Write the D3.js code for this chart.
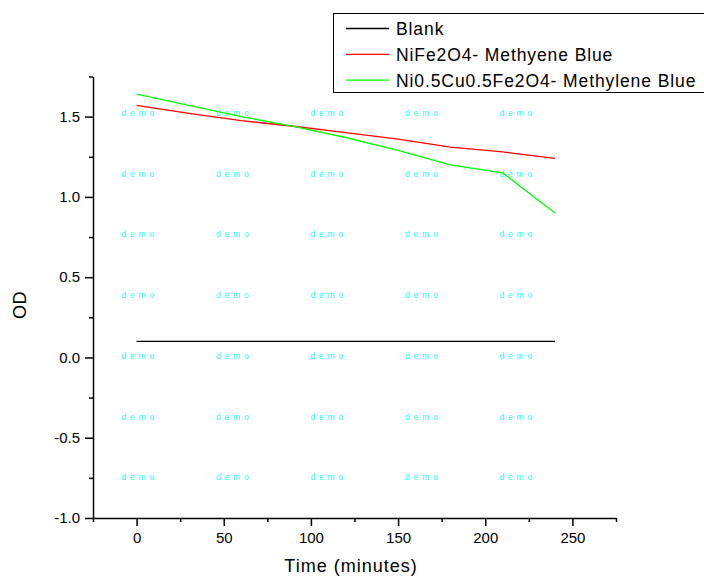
<!DOCTYPE html>
<html>
<head>
<meta charset="utf-8">
<script src="https://cdn.jsdelivr.net/npm/d3@7"></script>
<style>
  html, body { margin: 0; padding: 0; background: #fff; }
  svg { display: block; font-family: "Liberation Sans", Arial, sans-serif; }
  .tick text { font-size: 15px; fill: #000; }
  .axis path, .axis line { stroke: #000; stroke-width: 1.5px; }
</style>
</head>
<body>
<div id="chart"></div>
<script>
// data
const times = [0, 30, 60, 90, 120, 150, 180, 210, 240];
const blank = [0.1, 0.1, 0.1, 0.1, 0.1, 0.1, 0.1, 0.1, 0.1];
const niFe = [1.57, 1.52, 1.475, 1.44, 1.40, 1.36, 1.31, 1.28, 1.24];
const niCuFe = [1.64, 1.57, 1.50, 1.44, 1.37, 1.29, 1.20, 1.15, 0.90];
const seriesNames = ["Blank", "NiFe2O4- Methyene Blue", "Ni0.5Cu0.5Fe2O4- Methylene Blue"];
const seriesColors = ["#000000", "#ff0000", "#00ff00"];

const xMajor = [0, 50, 100, 150, 200, 250];
const xMinor = [-25, 25, 75, 125, 175, 225, 275];
const yMajor = [-1.0, -0.5, 0.0, 0.5, 1.0, 1.5];
const yMinor = [-0.75, -0.25, 0.25, 0.75, 1.25, 1.75];

const width = 704, height = 581;
const plotLeft = 93, plotRight = 616, plotTop = 76.5, plotBottom = 518;

const svg = d3.select("#chart").append("svg")
  .attr("width", width)
  .attr("height", height);

const x = d3.scaleLinear().domain([-25, 275]).range([plotLeft, plotRight]);
const y = d3.scaleLinear().domain([-1, 1.75]).range([plotBottom, plotTop]);

// watermark grid
const wmCols = d3.range(5), wmRows = d3.range(7);
const wm = svg.append("g").attr("id", "watermark");
wmRows.forEach(r => {
  wmCols.forEach(c => {
    wm.append("text")
      .attr("x", plotLeft + 28.5 + c * 94.5)
      .attr("y", plotTop + 39.5 + r * 60.7)
      .attr("font-size", "8.5px")
      .attr("letter-spacing", "3.8px")
      .attr("fill", "#22ffff")
      .text("demo");
  });
});

// lines
const series = [blank, niFe, niCuFe];
const line = d3.line()
  .x((d, i) => x(times[i]))
  .y(d => y(d));

svg.append("g")
  .selectAll("path")
  .data(series)
  .join("path")
    .attr("d", d => line(d))
    .attr("fill", "none")
    .attr("stroke", (d, i) => seriesColors[i])
    .attr("stroke-width", 1.3);

// axes
const fmtY = d => d3.format(".1f")(d).replace("−", "-");

svg.append("g")
  .attr("class", "axis")
  .attr("transform", `translate(0,${plotBottom})`)
  .call(d3.axisBottom(x).tickValues(xMinor).tickSize(4).tickFormat(""))
  .call(g => g.select(".domain").remove());

svg.append("g")
  .attr("class", "axis")
  .attr("transform", `translate(0,${plotBottom})`)
  .call(d3.axisBottom(x).tickValues(xMajor).tickSize(8).tickSizeOuter(0).tickPadding(6)
    .tickFormat(d3.format("d")));

svg.append("g")
  .attr("class", "axis")
  .attr("transform", `translate(${plotLeft},0)`)
  .call(d3.axisLeft(y).tickValues(yMinor).tickSize(4).tickFormat(""))
  .call(g => g.select(".domain").remove());

svg.append("g")
  .attr("class", "axis")
  .attr("transform", `translate(${plotLeft},0)`)
  .call(d3.axisLeft(y).tickValues(yMajor).tickSize(8).tickSizeOuter(0).tickPadding(5)
    .tickFormat(fmtY));

svg.selectAll(".tick text").style("font-size", "15px");

// axis titles
svg.append("text")
  .attr("x", 351)
  .attr("y", 572)
  .attr("text-anchor", "middle")
  .attr("font-size", "18px")
  .attr("letter-spacing", "1px")
  .text("Time (minutes)");

svg.append("text")
  .attr("transform", `translate(25.5,305) rotate(-90)`)
  .attr("text-anchor", "middle")
  .attr("font-size", "18px")
  .attr("letter-spacing", "0.5px")
  .text("OD");

// legend
const legend = svg.append("g").attr("transform", "translate(333,13)");
legend.append("rect")
  .attr("x", 0.5).attr("y", 0.5)
  .attr("width", 380).attr("height", 79)
  .attr("fill", "#fff")
  .attr("stroke", "#000")
  .attr("stroke-width", 1);

seriesNames.forEach((name, i) => {
  const ly = 22 + i * 25.8;
  legend.append("line")
    .attr("x1", 13).attr("x2", 56)
    .attr("y1", ly - 6.5).attr("y2", ly - 6.5)
    .attr("stroke", seriesColors[i])
    .attr("stroke-width", 1.3);
  legend.append("text")
    .attr("x", 63)
    .attr("y", ly)
    .attr("font-size", "17.5px")
    .attr("letter-spacing", "0.9px")
    .text(name);
});
</script>
</body>
</html>
